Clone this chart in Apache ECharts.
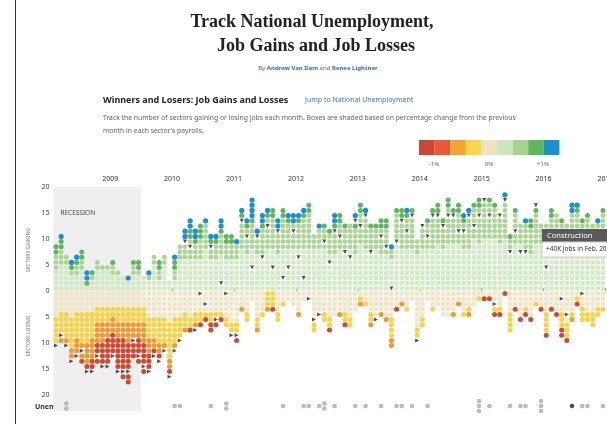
<!DOCTYPE html>
<html>
<head>
<meta charset="utf-8">
<title>Job Gains and Job Losses</title>
<script src="https://cdn.jsdelivr.net/npm/echarts@6/dist/echarts.min.js"></script>
<style>
  html, body { margin: 0; padding: 0; background: #fff; }
  #main { width: 607px; height: 424px; }
</style>
</head>
<body>
<div id="main"></div>
<script>
// months from Feb. 2008 to Dec. 2016, one column each
var yearLabels = ['2009', '2010', '2011', '2012', '2013', '2014', '2015', '2016', '2017'];

// number of sectors gaining jobs each month
var gains = [9,11,7,6,7,8,4,4,6,5, 5,6,4,3,3,6,6,3,4,7, 6,7,2,7,9,12,14,12,13,14,
  11,11,14,11,11,10,16,14,18,12, 15,16,16,14,16,15,15,15,16,17, 11,13,13,12,15,15,13,13,15,17,
  16,13,13,14,14,9,16,16,16,16, 10,13,14,16,17,14,18,16,17,15, 16,17,18,18,18,17,15,19,11,16,
  13,14,14,17,13,13,16,15,14,13, 17,17,14,15,13,14,16];
// how many of them are in each shade (strongest first)
var gainBlue = [0,1,0,1,1,0,2,0,0,0, 0,0,0,0,1,0,0,0,1,0, 0,0,0,1,0,2,2,2,0,1,
  1,1,2,0,0,1,1,1,4,1, 2,1,0,2,0,1,2,1,1,0, 0,1,0,0,2,0,0,0,1,0,
  1,0,0,0,0,1,0,0,1,0, 0,1,0,0,0,0,0,0,0,1, 1,0,0,0,0,0,0,1,0,0,
  0,1,0,0,0,0,0,0,0,0, 2,1,0,0,0,1,0];
var gainGreen = [2,2,0,1,1,2,1,1,0,0, 0,1,0,0,0,1,2,0,0,0, 2,0,0,2,0,1,2,1,3,0,
  1,1,1,2,2,0,1,1,1,0, 1,1,2,1,2,1,0,1,1,2, 0,0,1,1,1,2,1,0,2,2,
  1,1,1,2,2,0,1,2,1,2, 0,0,1,2,2,1,2,1,2,1, 1,1,2,1,1,1,1,1,1,1,
  0,0,2,2,0,0,2,0,1,0, 0,1,1,1,0,0,1];
var gainLight = [3,3,2,1,2,2,0,1,2,1, 1,2,1,0,0,2,1,0,1,2, 2,2,0,2,3,3,4,3,4,5,
  3,3,4,3,3,3,6,5,5,4, 5,6,6,4,6,5,5,5,6,7, 3,4,4,4,5,5,4,5,5,6,
  6,4,4,5,5,2,6,6,6,6, 3,4,5,6,6,5,7,6,6,5, 6,6,7,7,7,6,5,7,3,6,
  4,5,5,6,4,4,6,5,5,4, 6,6,5,5,4,5,6];

// number of sectors losing jobs each month
var losses = [11,10,11,14,13,14,16,16,14,15, 15,13,16,17,18,13,14,16,16,13, 14,12,17,12,10,8,8,8,7,6,
  8,7,6,7,9,10,4,6,2,8, 5,4,4,6,3,2,3,5,2,2, 8,5,6,8,5,5,7,7,4,3,
  3,7,6,5,6,11,4,3,4,2, 10,7,2,4,3,5,5,5,3,5, 5,3,2,2,2,5,5,1,8,4,
  6,5,6,3,4,9,4,5,9,10, 6,3,6,6,7,5,4];
var lossRed = [0,0,0,0,1,1,2,3,4,5, 6,5,7,8,8,4,5,6,4,2, 2,1,2,1,0,0,1,1,1,1,
  2,1,1,0,0,1,0,0,0,0, 0,0,1,0,0,0,0,0,0,0, 0,0,0,1,0,0,1,0,0,0,
  0,0,0,0,0,0,1,0,0,0, 0,0,0,0,0,0,0,0,0,0, 0,0,0,1,1,1,1,1,0,1,
  1,1,1,0,1,1,1,1,2,1, 0,1,0,0,0,0,0];
var lossOrange = [1,1,2,3,3,3,4,4,4,4, 3,3,3,3,4,3,3,4,3,2, 2,1,2,1,1,1,0,1,0,0,
  0,0,0,0,0,0,1,0,0,1, 0,1,0,0,0,0,0,1,0,0, 0,0,0,0,0,1,0,0,0,1,
  0,1,0,1,1,2,0,1,0,0, 0,0,0,0,0,0,0,1,1,0, 1,0,0,0,0,0,0,0,0,0,
  0,0,0,0,0,0,0,0,0,0, 1,0,0,0,0,0,0];
var lossYellow = [5,5,5,6,5,6,6,5,3,3, 3,2,3,3,3,3,3,3,4,4, 5,5,7,5,4,3,2,2,2,1,
  2,2,1,2,3,3,0,2,0,2, 1,3,3,2,1,0,0,0,0,0, 3,1,2,2,0,0,2,2,0,1,
  1,2,1,0,0,4,0,0,1,0, 3,2,0,1,0,0,0,0,0,1, 1,0,1,0,0,1,1,0,4,0,
  0,1,0,1,0,4,0,0,3,3, 1,1,3,2,3,2,1];

// where construction sits in each column (+ gaining, - losing)
var construction = [-11,-9,-11,-14,-13,-12,-16,-16,-13,-15, -15,-13,-16,-16,-16,-10,-13,-15,-16,-13,
  -14,-12,-17,-12,-10,10,9,-8,-1,-3, 9,-6,2,-1,-9,-9,14,11,5,11, 7,13,5,12,3,5,12,7,3,-2,
  -6,-5,10,6,12,11,8,7,14,13, 15,8,-6,11,9,1,10,14,12,15, -10,13,11,15,15,13,15,15,12,12,
  15,13,15,18,15,-3,15,18,8,12, 8,8,15,17,14,5,10,9,-2,-5, 11,10,-1,9,8,10,11];

// unemployment row
var unem = [0,0,2,0,0,0,0,0,0,0, 0,0,0,0,0,0,0,0,0,0, 0,0,0,1,1,0,0,0,0,0,
  1,0,0,2,0,0,0,0,0,0, 0,0,0,0,1,0,0,0,1,1, 0,1,2,0,1,0,0,0,1,0,
  1,0,0,1,0,0,1,1,0,1, 0,0,1,0,0,0,0,0,0,0, 0,0,3,0,1,0,0,0,1,0,
  1,1,0,0,3,0,0,0,0,0, 1,0,1,1,0,0,1];
var unemDark = [100];

var recessionEnd = 16; // June 2009

var yearTicks = yearLabels.map(function (y, j) { return 10.5 + 12 * j; });

// 拆成各个颜色的点
var pale = [], light = [], green = [], blue = [];
var beige = [], yellow = [], orange = [], red = [];
var consUp = [], consDown = [], unemDots = [], unemDarkDots = [];
for (var i = 0; i < gains.length; i++) {
  var g = gains[i];
  for (var k = 1; k <= g; k++) {
    var p = [i, k - 0.5];
    if (construction[i] === k) { consUp.push(p); continue; }
    if (k > g - gainBlue[i]) blue.push(p);
    else if (k > g - gainBlue[i] - gainGreen[i]) green.push(p);
    else if (k > g - gainBlue[i] - gainGreen[i] - gainLight[i]) light.push(p);
    else pale.push(p);
  }
  var l = losses[i];
  for (k = 1; k <= l; k++) {
    var q = [i, -(k - 0.5)];
    if (construction[i] === -k) { consDown.push(q); continue; }
    if (k > l - lossRed[i]) red.push(q);
    else if (k > l - lossRed[i] - lossOrange[i]) orange.push(q);
    else if (k > l - lossRed[i] - lossOrange[i] - lossYellow[i]) yellow.push(q);
    else beige.push(q);
  }
  for (k = 0; k < unem[i]; k++) {
    var u = [i, k - (unem[i] - 1) / 2];
    if (unemDark.indexOf(i) >= 0) unemDarkDots.push(u); else unemDots.push(u);
  }
}

function dots(data, color, symbol, size) {
  return {
    type: 'scatter', data: data, symbol: symbol, symbolSize: size,
    itemStyle: { color: color, opacity: 1 }, silent: true, z: 3
  };
}

var legendColors = ['#cf4630', '#ec5736', '#f5a52c', '#fbd648', '#efe2c0', '#cde7bd', '#a6d48e', '#5cb85a', '#1b8fd4'];
var graphics = [
  { type: 'line', shape: { x1: 15.5, y1: 0, x2: 15.5, y2: 424 }, style: { stroke: '#333', lineWidth: 1 } },
  { type: 'text', x: 312, y: 22, style: { text: 'Track National Unemployment,', font: 'bold 18px "Liberation Serif"', fill: '#222', textAlign: 'center', textVerticalAlign: 'middle' } },
  { type: 'text', x: 316, y: 46, style: { text: 'Job Gains and Job Losses', font: 'bold 18px "Liberation Serif"', fill: '#222', textAlign: 'center', textVerticalAlign: 'middle' } },
  { type: 'text', x: 318, y: 68, style: {
    text: '{a|By }{b|Andrew Van Dam}{a| and }{b|Renee Lightner}', textAlign: 'center', textVerticalAlign: 'middle',
    rich: { a: { fontSize: 6, fontFamily: 'Noto Sans', fill: '#666' }, b: { fontSize: 6, fontFamily: 'Noto Sans', fontWeight: 'bold', fill: '#2a6fb0' } }
  } },
  { type: 'text', x: 103, y: 100, style: { text: 'Winners and Losers: Job Gains and Losses', font: 'bold 9px "Noto Sans"', fill: '#222', textVerticalAlign: 'middle' } },
  { type: 'text', x: 305, y: 100, style: { text: 'Jump to National Unemployment', font: '7px "Noto Sans"', fill: '#3a7bbf', textVerticalAlign: 'middle' } },
  { type: 'text', x: 103, y: 118, style: { text: 'Track the number of sectors gaining or losing jobs each month. Boxes are shaded based on percentage change from the previous', font: '6.8px "Noto Sans"', fill: '#666', textVerticalAlign: 'middle' } },
  { type: 'text', x: 103, y: 131, style: { text: "month in each sector's payrolls.", font: '6.8px "Noto Sans"', fill: '#666', textVerticalAlign: 'middle' } },
  { type: 'text', x: 434, y: 164, style: { text: '-1%', font: '6px "Noto Sans"', fill: '#666', textAlign: 'center', textVerticalAlign: 'middle' } },
  { type: 'text', x: 489, y: 164, style: { text: '0%', font: '6px "Noto Sans"', fill: '#666', textAlign: 'center', textVerticalAlign: 'middle' } },
  { type: 'text', x: 543, y: 164, style: { text: '+1%', font: '6px "Noto Sans"', fill: '#666', textAlign: 'center', textVerticalAlign: 'middle' } },
  { type: 'text', x: 29, y: 250, rotation: Math.PI / 2, style: { text: 'SECTORS GAINING', font: '5px "Noto Sans"', fill: '#777', textAlign: 'center', textVerticalAlign: 'middle' } },
  { type: 'text', x: 29, y: 336, rotation: Math.PI / 2, style: { text: 'SECTORS LOSING', font: '5px "Noto Sans"', fill: '#777', textAlign: 'center', textVerticalAlign: 'middle' } },
  { type: 'text', x: 35, y: 407, style: { text: 'Unem.', font: 'bold 7px "Noto Sans"', fill: '#333', textVerticalAlign: 'middle' } },
  // 悬停提示框
  { type: 'rect', z: 100, shape: { x: 542, y: 229, width: 70, height: 13 }, style: { fill: '#5a5a5a' } },
  { type: 'text', z: 101, x: 547, y: 235.5, style: { text: 'Construction', font: '7.5px "Noto Sans"', fill: '#fff', textVerticalAlign: 'middle' } },
  { type: 'rect', z: 100, shape: { x: 542, y: 242, width: 70, height: 15 }, style: { fill: '#fff', stroke: '#ccc', lineWidth: 1 } },
  { type: 'text', z: 101, x: 546, y: 249.5, style: { text: '+40K jobs in Feb. 2016', font: '6.5px "Noto Sans"', fill: '#333', textVerticalAlign: 'middle' } }
];
legendColors.forEach(function (c, j) {
  graphics.push({ type: 'rect', shape: { x: 419 + j * 15.6, y: 140, width: 15.6, height: 15 }, style: { fill: c } });
});

var mainDiv = echarts.init(document.getElementById('main'), null, { renderer: 'canvas' });

var option = {
  animation: false,
  backgroundColor: '#fff',
  grid: [
    { left: 53.4, top: 187, width: 557.3, height: 208, outerBoundsMode: 'none' },
    { left: 53.4, top: 395, width: 557.3, height: 16, outerBoundsMode: 'none' }
  ],
  xAxis: [
    {
      gridIndex: 0, type: 'value', position: 'top', min: -0.5, max: 107.5,
      axisLine: { show: false }, splitLine: { show: false },
      axisTick: { show: true, customValues: yearTicks, length: 3, lineStyle: { color: '#999' } },
      axisLabel: {
        customValues: yearTicks, fontSize: 7, color: '#333', margin: 5, fontFamily: 'Noto Sans',
        formatter: function (v) { return yearLabels[Math.round((v - 10.5) / 12)]; }
      }
    },
    { gridIndex: 1, type: 'value', min: -0.5, max: 107.5, show: false }
  ],
  yAxis: [
    {
      gridIndex: 0, type: 'value', min: -20, max: 20, interval: 5,
      axisLine: { show: false }, splitLine: { show: false },
      axisTick: { show: true, length: 2, lineStyle: { color: '#888' } },
      axisLabel: { fontSize: 7, color: '#444', margin: 4, fontFamily: 'Noto Sans', formatter: function (v) { return Math.abs(v); } }
    },
    { gridIndex: 1, type: 'value', min: -1, max: 2.2, show: false }
  ],
  graphic: graphics,
  series: [
    {
      type: 'scatter', data: [], silent: true,
      markArea: {
        silent: true, itemStyle: { color: '#efefef' },
        label: { show: true, position: 'insideTopLeft', offset: [2, 18], color: '#444', fontSize: 6.5, fontFamily: 'Noto Sans' },
        data: [[{ name: 'RECESSION', xAxis: -0.5 }, { xAxis: recessionEnd + 0.5 }]]
      }
    },
    {
      type: 'scatter', data: [], silent: true, xAxisIndex: 1, yAxisIndex: 1,
      markArea: { silent: true, itemStyle: { color: '#efefef' }, data: [[{ xAxis: -0.5 }, { xAxis: recessionEnd + 0.5 }]] }
    },
    dots(pale, '#d3eac6', 'roundRect', [4.4, 4.4]),
    dots(light, '#a9d692', 'circle', 4.8),
    dots(green, '#5db65b', 'circle', 5),
    dots(blue, '#1a8fd6', 'circle', 5.2),
    dots(beige, '#f2e5c8', 'roundRect', [4.4, 4.4]),
    dots(yellow, '#f9d245', 'circle', 5),
    dots(orange, '#f1972c', 'circle', 5),
    dots(red, '#d4462f', 'circle', 5),
    { type: 'scatter', data: consUp, symbol: 'triangle', symbolRotate: 180, symbolSize: 4, itemStyle: { color: '#222' }, silent: true, z: 4 },
    { type: 'scatter', data: consDown, symbol: 'triangle', symbolRotate: -90, symbolSize: 4, itemStyle: { color: '#222' }, silent: true, z: 4 },
    { type: 'scatter', xAxisIndex: 1, yAxisIndex: 1, data: unemDots, symbol: 'circle', symbolSize: 4.6, itemStyle: { color: '#aaa' }, silent: true, z: 3 },
    { type: 'scatter', xAxisIndex: 1, yAxisIndex: 1, data: unemDarkDots, symbol: 'circle', symbolSize: 4.6, itemStyle: { color: '#222' }, silent: true, z: 3 }
  ]
};

if (option && typeof option === 'object') {
  mainDiv.setOption(option, true);
}
</script>
</body>
</html>
